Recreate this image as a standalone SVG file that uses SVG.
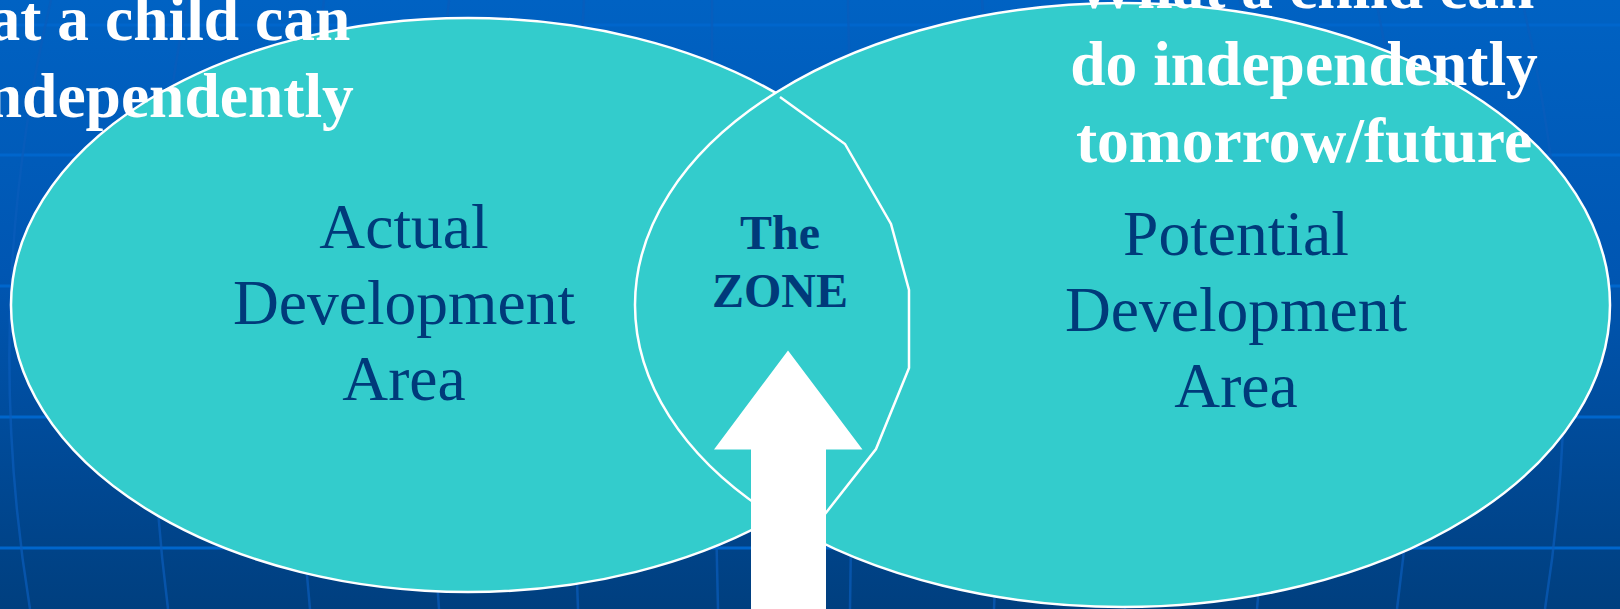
<svg xmlns="http://www.w3.org/2000/svg" width="1620" height="609" viewBox="0 0 1620 609">
  <defs>
    <linearGradient id="bg" x1="0" y1="0" x2="0" y2="1">
      <stop offset="0" stop-color="#0062C3"/>
      <stop offset="0.45" stop-color="#0056B2"/>
      <stop offset="1" stop-color="#003F7F"/>
    </linearGradient>
    <style>
      .hline { stroke: #0066CC; stroke-width: 3; fill: none; }
      .vline { stroke: #0A5CBA; stroke-width: 2.5; fill: none; opacity: 0.7; }
      .oval { fill: #33CCCC; stroke: #FFFFFF; stroke-width: 2.5; }
      .zone { fill: none; stroke: #FFFFFF; stroke-width: 2.5; stroke-linejoin: miter; }
      .title { font-family: "Liberation Serif", "Times New Roman", serif; font-weight: bold; font-size: 63.5px; fill: #FFFFFF; text-anchor: middle; }
      .label { font-family: "Liberation Serif", "Times New Roman", serif; font-size: 63.5px; fill: #003A7A; text-anchor: middle; }
      .zlabel { font-family: "Liberation Serif", "Times New Roman", serif; font-weight: bold; font-size: 48px; fill: #003A7A; text-anchor: middle; }
      .arrow { fill: #FFFFFF; stroke: none; }
    </style>
  </defs>

  <g id="background">
    <rect x="0" y="0" width="1620" height="609" fill="url(#bg)"/>
    <path class="hline" d="M0 25 H1620 M0 155 H1620 M0 286 H1620 M0 417 H1620 M0 548 H1620"/>
    <path class="vline" d="M51 0 Q-20 304 30 609"/>
    <path class="vline" d="M187 0 Q129 304 168 609"/>
    <path class="vline" d="M324 0 Q280 304 310 609"/>
    <path class="vline" d="M449 0 Q416 304 439 609"/>
    <path class="vline" d="M584 0 Q566 304 578 609"/>
    <path class="vline" d="M712 0 Q711 304 718 609"/>
    <path class="vline" d="M848 0 Q855 304 850 609"/>
    <path class="vline" d="M982 0 Q1008 304 994 609"/>
    <path class="vline" d="M1112 0 Q1148 304 1125 609"/>
    <path class="vline" d="M1240 0 Q1289 304 1257 609"/>
    <path class="vline" d="M1376 0 Q1438 304 1397 609"/>
    <path class="vline" d="M1522 0 Q1593 304 1545 609"/>
  </g>

  <g id="node-actual">
    <ellipse class="oval" cx="468" cy="305" rx="457" ry="287"/>
    <text class="label" x="404" y="248">Actual</text>
    <text class="label" x="404" y="324">Development</text>
    <text class="label" x="404" y="400">Area</text>
  </g>

  <g id="node-potential">
    <ellipse class="oval" cx="1122.5" cy="305" rx="487.5" ry="302"/>
    <text class="label" x="1236" y="255">Potential</text>
    <text class="label" x="1236" y="331">Development</text>
    <text class="label" x="1236" y="407">Area</text>
  </g>

  <g id="node-zone">
    <polyline class="zone" points="780,97 845,144 891,224 909,290 909,368 876,449 825,514 800,545"/>
    <text class="zlabel" x="780" y="249">The</text>
    <text class="zlabel" x="780" y="307">ZONE</text>
  </g>

  <g id="title-today">
    <text class="title" x="120" y="40">What a child can</text>
    <text class="title" x="120" y="117">do independently</text>
  </g>

  <g id="title-future">
    <text class="title" x="1304" y="8">What a child can</text>
    <text class="title" x="1304" y="85">do independently</text>
    <text class="title" x="1304" y="162">tomorrow/future</text>
  </g>

  <g id="connectors">
    <polygon class="arrow" points="788,350.5 862.5,449.5 826,449.5 826,612 751,612 751,449.5 714,449.5"/>
  </g>
</svg>
